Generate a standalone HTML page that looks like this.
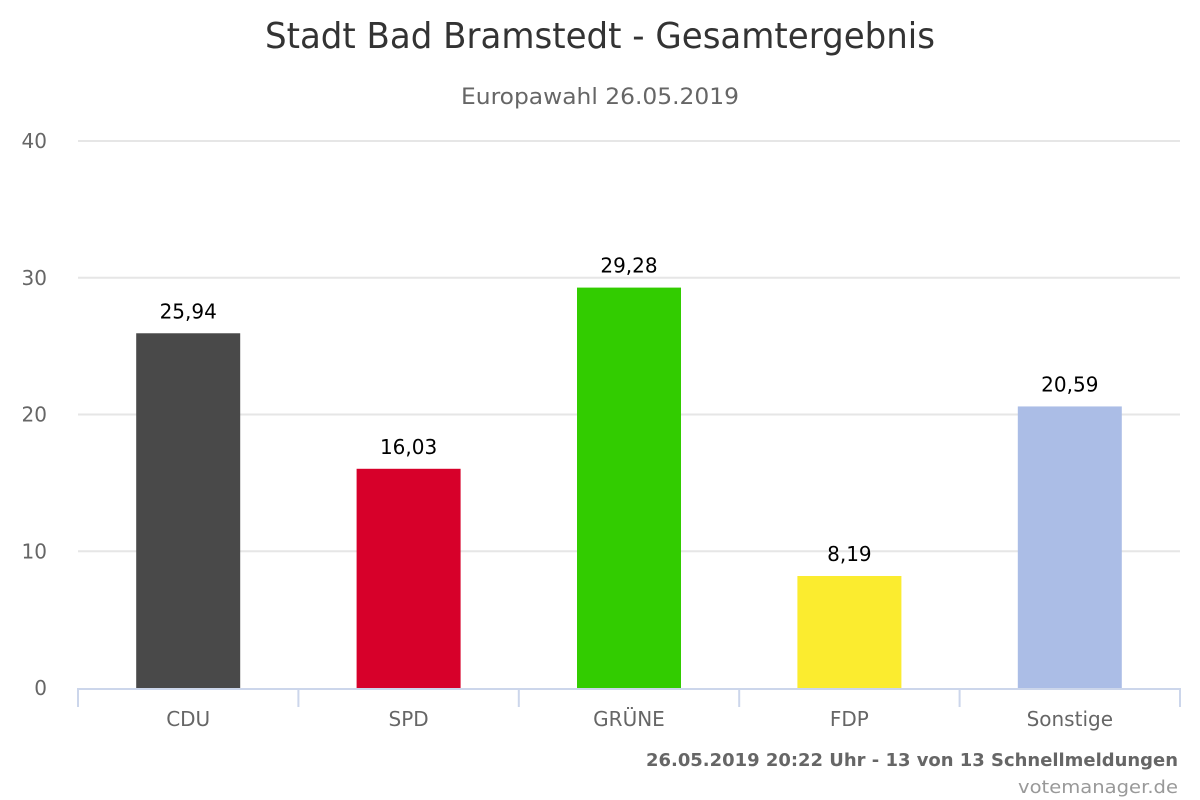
<!DOCTYPE html>
<html><head><meta charset="utf-8"><style>
html,body{margin:0;padding:0;background:#fff;}
svg{display:block;font-family:"DejaVu Sans","Liberation Sans",sans-serif;}
</style></head><body>
<svg id="chart" width="1200" height="800" viewBox="0 0 1200 800">
<text x="600" y="48" text-anchor="middle" font-size="36" fill="#333" textLength="670" lengthAdjust="spacingAndGlyphs">Stadt Bad Bramstedt - Gesamtergebnis</text>
<text x="600" y="104" text-anchor="middle" font-size="22" fill="#666" textLength="278" lengthAdjust="spacingAndGlyphs">Europawahl 26.05.2019</text>
<g id="grid"></g><g id="bars"></g><g id="labels"></g>
<text x="1178" y="766" text-anchor="end" font-size="18" font-weight="bold" fill="#666" textLength="532" lengthAdjust="spacingAndGlyphs">26.05.2019 20:22 Uhr - 13 von 13 Schnellmeldungen</text>
<text x="1178" y="793" text-anchor="end" font-size="18" fill="#999" textLength="160" lengthAdjust="spacingAndGlyphs">votemanager.de</text>
</svg>
<script>
const categories=["CDU","SPD","GRÜNE","FDP","Sonstige"];
const values=[25.94,16.03,29.28,8.19,20.59];
const valueLabels=["25,94","16,03","29,28","8,19","20,59"];
const colors=["#494949","#d7002a","#32cc00","#fbec2f","#abbde6"];
const yTicks=[0,10,20,30,40];
const NS="http://www.w3.org/2000/svg";
const x0=78,x1=1180,yb=688,yt=141,yMax=40;
const y=v=>yb-(v/yMax)*(yb-yt);
const bw=(x1-x0)/categories.length;
function mk(tag,attrs,parent,txt){const e=document.createElementNS(NS,tag);for(const k in attrs)e.setAttribute(k,attrs[k]);if(txt!==undefined)e.textContent=txt;parent.appendChild(e);return e;}
const grid=document.getElementById('grid'),bars=document.getElementById('bars'),labels=document.getElementById('labels');
yTicks.forEach(t=>{
  if(t>0){const l=mk('line',{x1:x0,x2:x1,y1:y(t),y2:y(t),stroke:'#e6e6e6','stroke-width':2},grid);
  
  }
  const tx=mk('text',{x:47,y:y(t)+7,'text-anchor':'end','font-size':20,fill:'#666'},grid,String(t));
  
  
});
const ax=mk('line',{x1:x0,x2:x1,y1:yb+1,y2:yb+1,stroke:'#ccd6eb','stroke-width':2},grid);


for(let i=0;i<=categories.length;i++){
  const xx=x0+i*bw;
  const tk=mk('line',{x1:xx,x2:xx,y1:yb,y2:yb+19,stroke:'#ccd6eb','stroke-width':2},grid);
  
  
}
categories.forEach((c,i)=>{
  const cx=x0+bw*(i+0.5),w=104;
  const r=mk('rect',{x:cx-w/2,y:y(values[i]),width:w,height:yb-y(values[i]),fill:colors[i]},bars);
  
  
  const vl=mk('text',{x:cx,y:y(values[i])-15,'text-anchor':'middle','font-size':20,fill:'#000'},labels,valueLabels[i]);
  
  
  const cl=mk('text',{x:cx,y:726,'text-anchor':'middle','font-size':20,fill:'#666'},labels,c);
  
  
});
</script>
</body></html>
